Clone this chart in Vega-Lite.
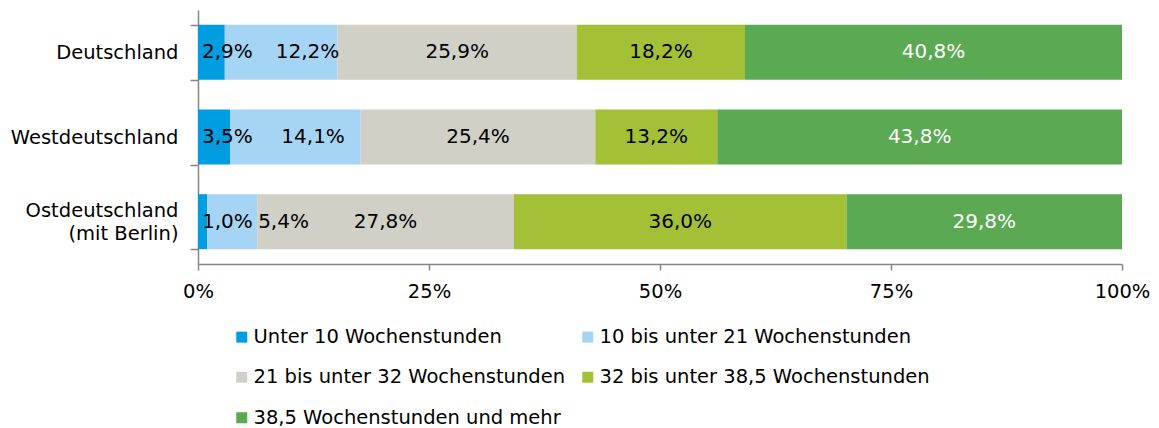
{
  "$schema": "https://vega.github.io/schema/vega-lite/v6.json",
  "width": 924,
  "height": 254,
  "autosize": {"type": "none"},
  "padding": {"left": 198, "top": 10, "right": 37, "bottom": 164},
  "background": "white",
  "config": {
    "font": "DejaVu Sans",
    "view": {"stroke": null},
    "axis": {"labelFont": "DejaVu Sans", "labelFontSize": 19.5, "labelColor": "#000000", "domainColor": "#868686", "tickColor": "#868686", "domainWidth": 1.5, "tickWidth": 1.5, "grid": false, "title": null}
  },
  "data": {
    "values": [
      {"region": "Deutschland", "k": 0, "cat": "Unter 10 Wochenstunden", "value": 2.9},
      {"region": "Deutschland", "k": 1, "cat": "10 bis unter 21 Wochenstunden", "value": 12.2},
      {"region": "Deutschland", "k": 2, "cat": "21 bis unter 32 Wochenstunden", "value": 25.9},
      {"region": "Deutschland", "k": 3, "cat": "32 bis unter 38,5 Wochenstunden", "value": 18.2},
      {"region": "Deutschland", "k": 4, "cat": "38,5 Wochenstunden und mehr", "value": 40.8},
      {"region": "Westdeutschland", "k": 0, "cat": "Unter 10 Wochenstunden", "value": 3.5},
      {"region": "Westdeutschland", "k": 1, "cat": "10 bis unter 21 Wochenstunden", "value": 14.1},
      {"region": "Westdeutschland", "k": 2, "cat": "21 bis unter 32 Wochenstunden", "value": 25.4},
      {"region": "Westdeutschland", "k": 3, "cat": "32 bis unter 38,5 Wochenstunden", "value": 13.2},
      {"region": "Westdeutschland", "k": 4, "cat": "38,5 Wochenstunden und mehr", "value": 43.8},
      {"region": "Ostdeutschland (mit Berlin)", "k": 0, "cat": "Unter 10 Wochenstunden", "value": 1.0},
      {"region": "Ostdeutschland (mit Berlin)", "k": 1, "cat": "10 bis unter 21 Wochenstunden", "value": 5.4},
      {"region": "Ostdeutschland (mit Berlin)", "k": 2, "cat": "21 bis unter 32 Wochenstunden", "value": 27.8},
      {"region": "Ostdeutschland (mit Berlin)", "k": 3, "cat": "32 bis unter 38,5 Wochenstunden", "value": 36.0},
      {"region": "Ostdeutschland (mit Berlin)", "k": 4, "cat": "38,5 Wochenstunden und mehr", "value": 29.8}
    ]
  },
  "transform": [
    {"stack": "value", "groupby": ["region"], "sort": [{"field": "k", "order": "ascending"}], "as": ["v0", "v1"]},
    {"calculate": "(datum.v0 + datum.v1) / 2", "as": "mid"},
    {"calculate": "replace(format(datum.value, '.1f'), '.', ',') + '%'", "as": "lbl"}
  ],
  "encoding": {
    "y": {
      "field": "region", "type": "nominal", "sort": null,
      "scale": {"paddingInner": 0.35, "paddingOuter": 0.175},
      "axis": {"tickBand": "extent", "tickSize": 8, "labelPadding": 12, "labelLineHeight": 23,
        "labelOffset": {"condition": {"test": "datum.value == 'Ostdeutschland (mit Berlin)'", "value": -11}, "value": 0},
        "labelExpr": "datum.value == 'Ostdeutschland (mit Berlin)' ? ['Ostdeutschland', '(mit Berlin)\u2002\u2002'] : datum.value"}
    }
  },
  "layer": [
    {
      "mark": {"type": "bar"},
      "encoding": {
        "x": {"field": "v0", "type": "quantitative", "scale": {"domain": [0, 100], "nice": false},
          "axis": {"values": [0, 25, 50, 75, 100], "tickSize": 6, "labelPadding": 12, "labelFlush": false, "labelExpr": "datum.value + '%'"}},
        "x2": {"field": "v1"},
        "color": {
          "field": "cat", "type": "nominal",
          "scale": {
            "domain": ["Unter 10 Wochenstunden", "10 bis unter 21 Wochenstunden", "21 bis unter 32 Wochenstunden", "32 bis unter 38,5 Wochenstunden", "38,5 Wochenstunden und mehr"],
            "range": ["#009ee0", "#a6d4f5", "#d0d0c7", "#a3c037", "#5ba952"]
          },
          "legend": {"orient": "none", "direction": "horizontal", "legendX": 34, "legendY": 317, "columns": 2, "title": null, "symbolType": "square", "symbolSize": 121, "symbolStrokeWidth": 0, "labelFontSize": 19.5, "labelFont": "DejaVu Sans", "labelColor": "#000000", "labelOffset": 2, "rowPadding": 19.5, "columnPadding": 12, "labelLimit": 500}
        }
      }
    },
    {
      "transform": [{"filter": "datum.value >= 7 && datum.k != 1"}],
      "mark": {"type": "text", "fontSize": 20, "align": "center", "baseline": "middle", "font": "DejaVu Sans"},
      "encoding": {
        "x": {"field": "mid", "type": "quantitative"},
        "text": {"field": "lbl"},
        "color": {"condition": {"test": "datum.k == 4", "value": "#ffffff"}, "value": "#000000"}
      }
    },
    {
      "transform": [{"filter": "datum.value >= 7 && datum.k == 1"}],
      "mark": {"type": "text", "fontSize": 20, "align": "left", "baseline": "middle", "dx": 51, "font": "DejaVu Sans", "color": "#000000"},
      "encoding": {
        "x": {"field": "v0", "type": "quantitative"},
        "text": {"field": "lbl"}
      }
    },
    {
      "transform": [{"filter": "datum.value < 5"}],
      "mark": {"type": "text", "fontSize": 20, "align": "left", "baseline": "middle", "dx": 4, "font": "DejaVu Sans", "color": "#000000"},
      "encoding": {
        "x": {"field": "v0", "type": "quantitative"},
        "text": {"field": "lbl"}
      }
    },
    {
      "transform": [{"filter": "datum.value >= 5 && datum.value < 7"}],
      "mark": {"type": "text", "fontSize": 20, "align": "left", "baseline": "middle", "dx": 1, "font": "DejaVu Sans", "color": "#000000"},
      "encoding": {
        "x": {"field": "v1", "type": "quantitative"},
        "text": {"field": "lbl"}
      }
    }
  ]
}
